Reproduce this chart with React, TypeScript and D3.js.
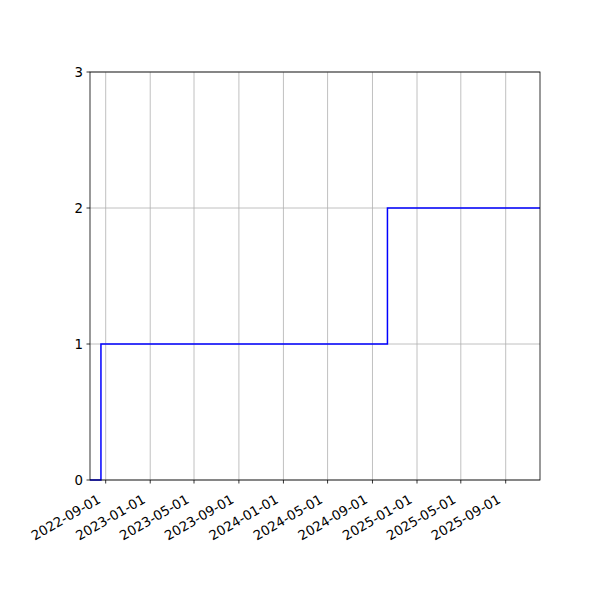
import React from 'react';
import * as d3 from 'd3';

// step series (value holds until next date)
const stepDates = ['2022-07-20', '2022-08-19', '2024-10-12', '2025-12-04'];
const stepValues = [0, 1, 2, 2];

const xTickLabels = [
  '2022-09-01', '2023-01-01', '2023-05-01', '2023-09-01', '2024-01-01',
  '2024-05-01', '2024-09-01', '2025-01-01', '2025-05-01', '2025-09-01',
];
const yTicks = [0, 1, 2, 3];

const parse = d3.utcParse('%Y-%m-%d');

const App: React.FC = () => {
  const width = 600;
  const height = 600;
  const margin = { top: 72, right: 60, bottom: 120, left: 90 };
  const innerWidth = width - margin.left - margin.right;
  const innerHeight = height - margin.top - margin.bottom;

  const points = stepDates.map((d, i) => ({ date: parse(d) as Date, value: stepValues[i] }));

  const xScale = d3
    .scaleUtc()
    .domain([points[0].date, points[points.length - 1].date])
    .range([0, innerWidth]);

  const yScale = d3.scaleLinear().domain([0, 3]).range([innerHeight, 0]);

  const line = d3
    .line<{ date: Date; value: number }>()
    .x((d) => xScale(d.date))
    .y((d) => yScale(d.value))
    .curve(d3.curveStepAfter);

  const xTicks = xTickLabels.map((t) => ({ label: t, x: xScale(parse(t) as Date) }));
  const font = 'DejaVu Sans, sans-serif';

  return (
    <svg width={width} height={height} style={{ display: 'block', margin: '-8px' }}>
      <rect width={width} height={height} fill="#fff" />
      <g transform={`translate(${margin.left},${margin.top})`}>
        {/* grid */}
        {xTicks.map((t) => (
          <line key={t.label} x1={t.x} x2={t.x} y1={0} y2={innerHeight} stroke="#b0b0b0" strokeWidth={0.8} />
        ))}
        {yTicks.map((v) => (
          <line key={v} x1={0} x2={innerWidth} y1={yScale(v)} y2={yScale(v)} stroke="#b0b0b0" strokeWidth={0.8} />
        ))}

        <path d={line(points) || ''} fill="none" stroke="#0000ff" strokeWidth={1.5} />

        {/* frame */}
        <rect x={0} y={0} width={innerWidth} height={innerHeight} fill="none" stroke="#000" strokeWidth={0.8} />

        {/* x axis */}
        {xTicks.map((t) => (
          <g key={t.label} transform={`translate(${t.x},${innerHeight})`}>
            <line y1={0} y2={3.5} stroke="#000" strokeWidth={0.8} />
            <text
              transform="translate(-4,22) rotate(-30)"
              textAnchor="end"
              fontFamily={font}
              fontSize={13.3}
              fill="#000"
            >
              {t.label}
            </text>
          </g>
        ))}

        {/* y axis */}
        {yTicks.map((v) => (
          <g key={v} transform={`translate(0,${yScale(v)})`}>
            <line x1={-3.5} x2={0} stroke="#000" strokeWidth={0.8} />
            <text x={-7} dy="0.35em" textAnchor="end" fontFamily={font} fontSize={13.3} fill="#000">
              {v}
            </text>
          </g>
        ))}
      </g>
    </svg>
  );
};

export default App;
